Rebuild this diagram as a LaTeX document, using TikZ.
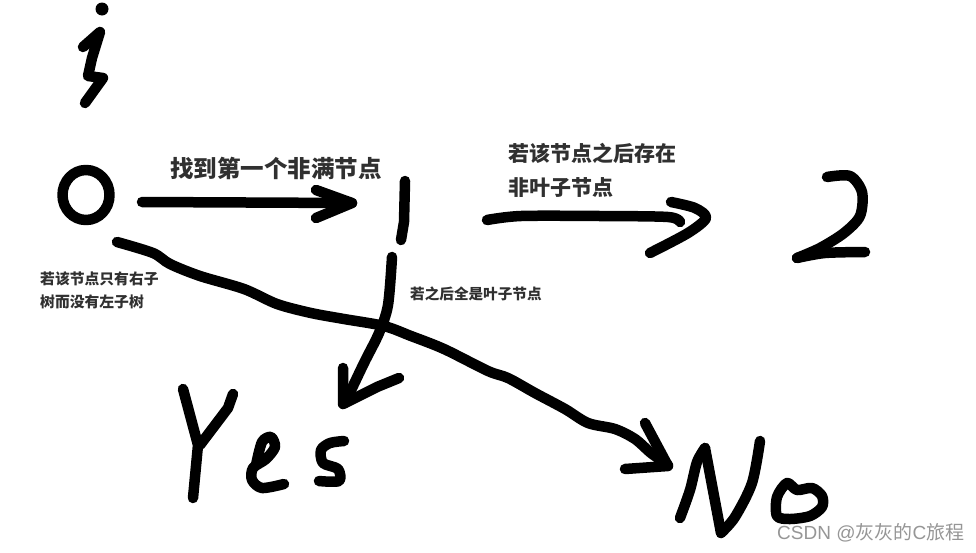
\documentclass[tikz,border=0pt]{standalone}
\usepackage{fontspec}
\newfontfamily\cjk{Noto Sans CJK SC}
\newfontfamily\wmfont{Liberation Sans}
\definecolor{txt}{RGB}{48,48,48}
\definecolor{wm}{RGB}{150,150,150}
\tikzset{
  pen/.style={line width=10.5pt, line cap=round, line join=round, black},
  lbl/.style={inner sep=0pt, anchor=west, text=txt, font=\cjk\bfseries},
}
\begin{document}
\begin{tikzpicture}[x=1pt,y=-1pt]
\useasboundingbox (0,0) rectangle (976,552);
\fill[white] (0,0) rectangle (976,552);
% i
\fill (102,9) circle (6.5);
\draw[pen] (83,47) -- (100,32) -- (92,58) -- (88,76) -- (103,78) -- (85,103);
% 0
\draw[pen] (86,195) ellipse (23.5 and 25);
% arrow 0 -> 1
\draw[pen] (142,202) -- (352,203);
\draw[pen] (316,190) -- (352,203) -- (316,218);
\node[lbl, font=\cjk\bfseries\fontsize{23.5}{28}\selectfont] (t1) at (170,168) {找到第一个非满节点};
% 1
\draw[pen] (405,181) -- (404,222) -- (401,240);
% arrow 1 -> 2
\draw[pen] plot[smooth] coordinates {(487,220) (521,216) (600,216) (668,217) (680,222)};
\draw[pen] plot[smooth] coordinates {(671,202) (695,208) (706,218) (688,233) (650,253)};
\node[lbl, font=\cjk\bfseries\fontsize{21}{25}\selectfont] (t2a) at (508,153) {若该节点之后存在};
\node[lbl, font=\cjk\bfseries\fontsize{21}{25}\selectfont] (t2b) at (508,188) {非叶子节点};
% 2
\draw[pen] plot[smooth] coordinates {(827,177) (850,176) (862,192) (860,216) (844,233) (820,248) (797,258)};
\draw[pen] plot[smooth] coordinates {(797,258) (825,253) (865,252)};
% arrow 1 -> Yes
\draw[pen] plot[smooth] coordinates {(392,257) (388,305) (379,333) (364,363) (345,403)};
\draw[pen] (343,368) -- (343,404) -- (377,387) -- (399,378);
\node[lbl, font=\cjk\bfseries\fontsize{14.6}{18}\selectfont] (t3) at (410,294) {若之后全是叶子节点};
% arrow 0 -> No
\draw[pen] plot[smooth, tension=0.5] coordinates {(117,242) (153,253) (170,264) (200,276) (244,289) (277,304) (311,313) (344,319) (384,326) (411,336) (444,349) (488,371) (508,378) (535,393) (565,409) (588,423) (615,429) (635,439) (651,453) (668,465)};
\draw[pen] (645,423) -- (668,466) -- (625,469);
\node[lbl, font=\cjk\bfseries\fontsize{14.8}{18}\selectfont] (t4a) at (40,279) {若该节点只有右子};
\node[lbl, font=\cjk\bfseries\fontsize{14.8}{18}\selectfont] (t4b) at (40,302) {树而没有左子树};
% Yes
\draw[pen] (183,389) -- (198,445) -- (193,498);
\draw[pen] (233,394) -- (228,408) -- (200,445);
\draw[pen] plot[smooth] coordinates {(256,465) (262,442) (271,437) (275,447) (266,459) (253,468) (252,480) (262,488) (284,484)};
\draw[pen] plot[smooth] coordinates {(344,441) (330,443) (321,450) (323,463) (338,469) (339,481) (319,481)};
% No
\draw[pen] plot[smooth] coordinates {(680,518) (690,490) (697,462) (705,448)};
\draw[pen] (705,448) -- (721,533);
\draw[pen] plot[smooth] coordinates {(721,533) (735,517) (752,483) (760,441)};
\draw[pen] plot[smooth cycle] coordinates {(787,483) (797,490) (812,488) (822,496) (822,507) (810,516) (790,519) (777,516) (777,497)};
% watermark
\node[inner sep=0pt, anchor=west, text=wm, font=\fontsize{19}{22}\selectfont] (wm) at (777,533) {\wmfont CSDN @\cjk 灰灰的\wmfont C\cjk 旅程};
\end{tikzpicture}
\end{document}
